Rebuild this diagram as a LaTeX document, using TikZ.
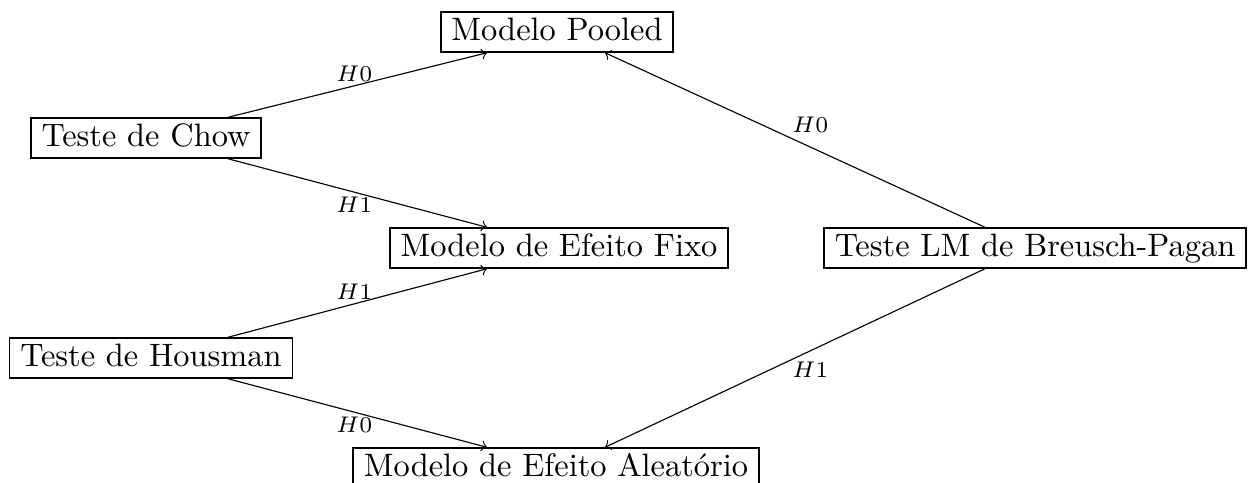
\documentclass[tikz,border=0pt]{standalone}
\begin{document}
\begin{tikzpicture}[x=0.3086pt,y=-0.3086pt,
  box/.style={draw,line width=0.5pt,inner xsep=3.3pt,inner ysep=0pt,minimum height=12.3pt,text height=7pt,text depth=2pt},
  conn/.style={->,line width=0.35pt},
  lab/.style={font=\scriptsize,inner sep=1pt}]
\useasboundingbox (0,0) rectangle (1248,482);
\node[box] (pooled) at (557,32) {Modelo Pooled};
\node[box] (chow) at (146,138) {Teste de Chow};
\node[box] (fixo) at (559,248) {Modelo de Efeito Fixo};
\node[box] (bp) at (1035,248) {Teste LM de Breusch-Pagan};
\node[box] (hous) at (151,358) {Teste de Housman};
\node[box] (alea) at (556,468) {Modelo de Efeito Aleatório};
\coordinate (ca) at (228,0);
\coordinate (cb) at (487,0);
\coordinate (cc) at (605,0);
\coordinate (cd) at (985,0);
\draw[conn] (chow.north -| ca) -- node[lab,midway,above,xshift=-1pt] {$H0$} (pooled.south -| cb);
\draw[conn] (chow.south -| ca) -- node[lab,midway,below,xshift=-1pt] {$H1$} (fixo.north -| cb);
\draw[conn] (hous.north -| ca) -- node[lab,midway,above,xshift=-1pt] {$H1$} (fixo.south -| cb);
\draw[conn] (hous.south -| ca) -- node[lab,midway,below,xshift=-1pt] {$H0$} (alea.north -| cb);
\draw[conn] (bp.north -| cd) -- node[lab,midway,above right,xshift=-2pt,yshift=1pt] {$H0$} (pooled.south -| cc);
\draw[conn] (bp.south -| cd) -- node[lab,midway,below right,xshift=-2pt,yshift=0pt] {$H1$} (alea.north -| cc);
\end{tikzpicture}
\end{document}
